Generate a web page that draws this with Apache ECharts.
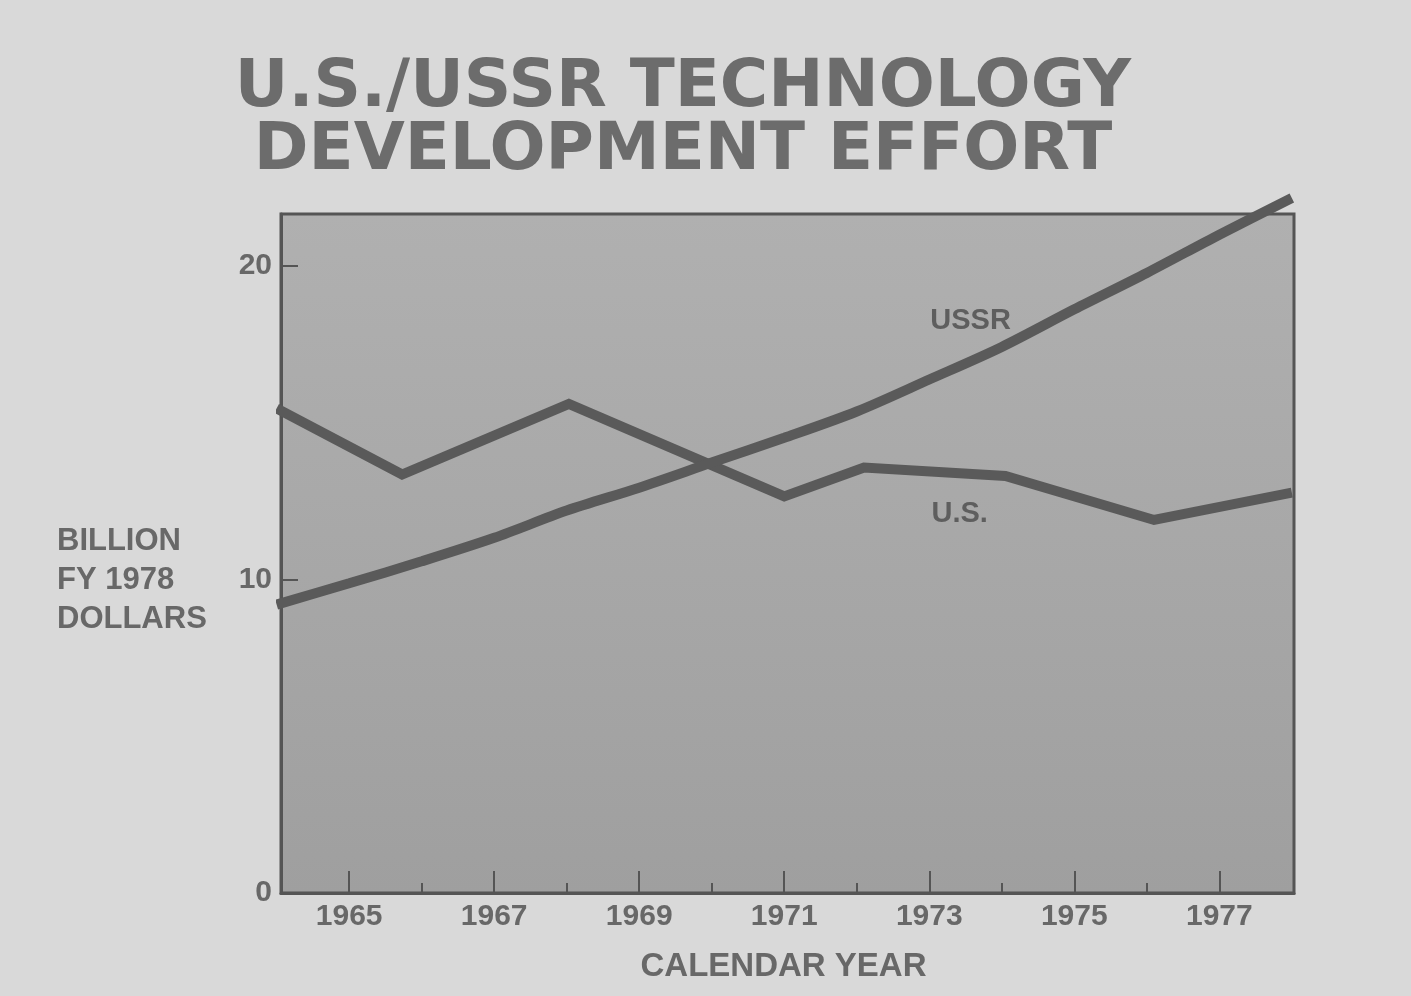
<!DOCTYPE html>
<html>
<head>
<meta charset="utf-8">
<script src="https://cdn.jsdelivr.net/npm/echarts@6/dist/echarts.min.js"></script>
<style>
html,body{margin:0;padding:0;background:#d9d9d9;}
#chart{width:1411px;height:996px;}
</style>
</head>
<body>
<div id="chart"></div>
<script>
// ---- data ----
const usData = [
  [1964.0, 15.46], [1965.73, 13.35], [1968.03, 15.6], [1971.0, 12.65],
  [1972.1, 13.57], [1974.05, 13.3], [1976.1, 11.9], [1978.0, 12.77]
];
const ussrData = [
  [1964, 9.2], [1965, 9.88], [1966, 10.58], [1967, 11.33], [1968, 12.2],
  [1969, 12.93], [1970, 13.73], [1971, 14.52], [1972, 15.36], [1973, 16.38],
  [1974, 17.42], [1975, 18.62], [1976, 19.78], [1977, 21.0], [1978, 22.17]
];
const majorYears = [1965, 1967, 1969, 1971, 1973, 1975, 1977];
const minorYears = [1966, 1968, 1970, 1972, 1974, 1976];
const yLabels = [0, 10, 20];
const yTicks = [10, 20];
const seriesLabels = [
  { name: 'USSR', coord: [1973.57, 18.25] },
  { name: 'U.S.', coord: [1973.42, 12.08] }
];
const titleText = 'U.S./USSR TECHNOLOGY\nDEVELOPMENT EFFORT';
const yNameLines = ['BILLION', 'FY 1978', 'DOLLARS'];
const xName = 'CALENDAR YEAR';

const TXT = '#686868';
const LINE = '#5a5a5a';

const chart = echarts.init(document.getElementById('chart'), null, { renderer: 'canvas' });
chart.setOption({
  backgroundColor: '#d9d9d9',
  animation: false,
  title: {
    text: titleText,
    left: 678,
    top: 52,
    textAlign: 'center',
    textStyle: {
      fontFamily: 'DejaVu Sans', fontWeight: 'bold', fontSize: 66,
      lineHeight: 63, color: '#6c6c6c', align: 'center'
    }
  },
  grid: {
    left: 281, right: 117, top: 214, bottom: 103,
    show: true,
    borderColor: '#555555', borderWidth: 3,
    backgroundColor: new echarts.graphic.LinearGradient(0, 0, 0, 1, [
      { offset: 0, color: '#b0b0b0' }, { offset: 1, color: '#9f9f9f' }
    ])
  },
  xAxis: [{
    type: 'value', min: 1964.06, max: 1978.03, position: 'bottom',
    splitLine: { show: false },
    axisLine: { show: true, lineStyle: { color: '#555555', width: 3 } },
    axisTick: { show: true, inside: true, length: 22, customValues: majorYears,
      lineStyle: { color: '#555555', width: 2 } },
    axisLabel: { customValues: majorYears, margin: 9, color: TXT,
      fontFamily: 'Liberation Sans', fontWeight: 'bold', fontSize: 30,
      formatter: v => String(v) },
    name: xName, nameLocation: 'middle', nameGap: 57,
    nameTextStyle: { color: TXT, fontFamily: 'Liberation Sans', fontWeight: 'bold', fontSize: 33,
      padding: [0, 8, 0, 0] }
  }, {
    type: 'value', min: 1964.06, max: 1978.03, position: 'bottom',
    splitLine: { show: false },
    axisLine: { show: false },
    axisTick: { show: true, inside: true, length: 10, customValues: minorYears,
      lineStyle: { color: '#555555', width: 2 } },
    axisLabel: { show: false }
  }],
  yAxis: {
    type: 'value', min: 0, max: 21.66,
    splitLine: { show: false },
    axisLine: { show: true, lineStyle: { color: '#555555', width: 3 } },
    axisTick: { show: true, inside: true, length: 17, customValues: yTicks,
      lineStyle: { color: '#555555', width: 2 } },
    axisLabel: { customValues: yLabels, margin: 9, color: TXT,
      fontFamily: 'Liberation Sans', fontWeight: 'bold', fontSize: 30 },
    name: '{g| }\n' + yNameLines.map(s => '{a|' + s + '}').join('\n'),
    nameLocation: 'middle', nameRotate: 0, nameGap: 224,
    nameTextStyle: {
      align: 'left',
      rich: {
        g: { lineHeight: 54, fontSize: 10 },
        a: { color: TXT, fontFamily: 'Liberation Sans', fontWeight: 'bold',
          fontSize: 31, lineHeight: 39 }
      }
    }
  },
  series: [{
    name: 'U.S.', type: 'line', data: usData, showSymbol: false, clip: false,
    lineStyle: { color: LINE, width: 10, join: 'miter', cap: 'butt' },
    markPoint: {
      symbol: 'circle', symbolSize: 0, silent: true,
      label: { show: true, formatter: '{b}', color: '#5e5e5e', fontFamily: 'Liberation Sans',
        fontWeight: 'bold', fontSize: 29, position: 'inside' },
      data: [seriesLabels[1]]
    }
  }, {
    name: 'USSR', type: 'line', data: ussrData, showSymbol: false, clip: false, smooth: 0.3,
    lineStyle: { color: LINE, width: 10, cap: 'butt' },
    markPoint: {
      symbol: 'circle', symbolSize: 0, silent: true,
      label: { show: true, formatter: '{b}', color: '#5e5e5e', fontFamily: 'Liberation Sans',
        fontWeight: 'bold', fontSize: 29, position: 'inside' },
      data: [seriesLabels[0]]
    }
  }]
});
</script>
</body>
</html>
